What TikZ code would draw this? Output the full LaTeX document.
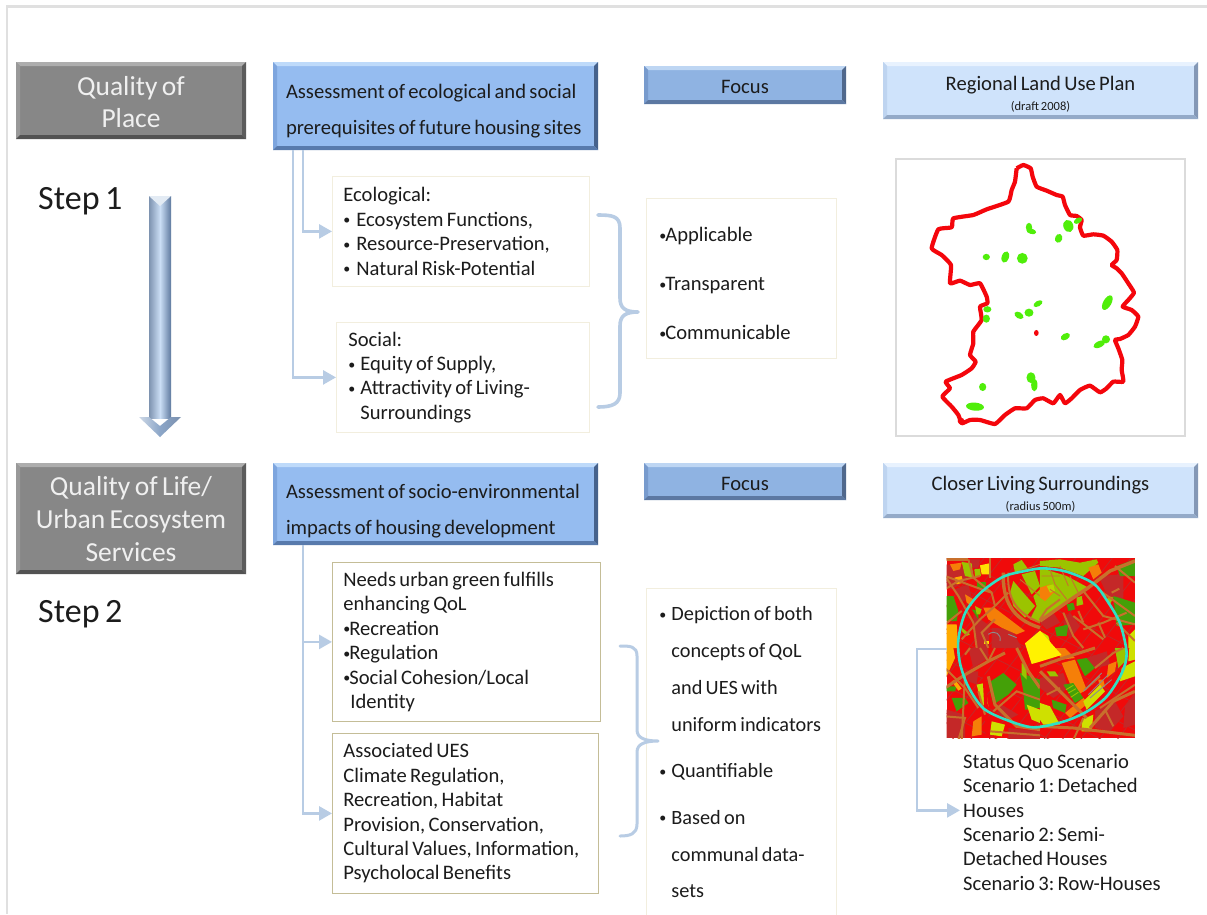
\documentclass[tikz,border=0pt]{standalone}
\usepackage{fontspec}
\setmainfont{Carlito}[WordSpace=0.72]
\AtBeginDocument{\frenchspacing}
\usetikzlibrary{arrows.meta,calc}
\definecolor{conn}{HTML}{B8CCE4}
\definecolor{txt}{HTML}{1C1C1C}
\definecolor{oliveg}{HTML}{9BC400}
\definecolor{dgreen}{HTML}{44A008}
\definecolor{mapor}{HTML}{F57F08}
\definecolor{road}{HTML}{C8702C}
\definecolor{dred}{HTML}{C42828}
\definecolor{ylw}{HTML}{CFE000}
\definecolor{amber}{HTML}{FFAA00}
\definecolor{bluefill}{HTML}{95BCF0}
\definecolor{bluet}{HTML}{BEDAFA}
\definecolor{bluel}{HTML}{7DA5DE}
\definecolor{bluer}{HTML}{46628C}
\definecolor{blueb}{HTML}{587AAC}
\definecolor{focfill}{HTML}{8FB3E2}
\definecolor{foct}{HTML}{BED6F3}
\definecolor{focl}{HTML}{789BCD}
\definecolor{focr}{HTML}{50688C}
\definecolor{focb}{HTML}{5C78A2}
\definecolor{palefill}{HTML}{CFE3FB}
\definecolor{palet}{HTML}{E8F2FE}
\definecolor{palel}{HTML}{BED4F0}
\definecolor{paler}{HTML}{8498B6}
\definecolor{paleb}{HTML}{94AAC8}
\definecolor{faintb}{HTML}{F2EEDE}
\definecolor{tanb}{HTML}{C4BD97}
\definecolor{mapred}{HTML}{F4060C}
\definecolor{mapgreen}{HTML}{50EE0A}
\definecolor{urbred}{HTML}{F00A0A}
\definecolor{cyanr}{HTML}{30E0C4}
\definecolor{shaftmid}{HTML}{CBDEF5}
\definecolor{shaftl}{HTML}{7E93B0}
\definecolor{shaftr}{HTML}{5F7A9F}
\definecolor{headl}{HTML}{CDD8E6}
\definecolor{headr}{HTML}{7A90AE}
\definecolor{headm}{HTML}{8CA6C8}
\tikzset{
  bevel/.style n args={4}{path picture={
    \fill[#1] (path picture bounding box.north west) -- (path picture bounding box.north east)
      -- ([xshift=-4pt,yshift=-4pt]path picture bounding box.north east) -- ([xshift=4pt,yshift=-4pt]path picture bounding box.north west) -- cycle;
    \fill[#2] (path picture bounding box.north west) -- (path picture bounding box.south west)
      -- ([xshift=4pt,yshift=4pt]path picture bounding box.south west) -- ([xshift=4pt,yshift=-4pt]path picture bounding box.north west) -- cycle;
    \fill[#3] (path picture bounding box.north east) -- (path picture bounding box.south east)
      -- ([xshift=-4pt,yshift=4pt]path picture bounding box.south east) -- ([xshift=-4pt,yshift=-4pt]path picture bounding box.north east) -- cycle;
    \fill[#4] (path picture bounding box.south west) -- (path picture bounding box.south east)
      -- ([xshift=-4pt,yshift=4pt]path picture bounding box.south east) -- ([xshift=4pt,yshift=4pt]path picture bounding box.south west) -- cycle;
  }},
  greybox/.style={fill=black!47,text=black!6,align=center,font=\fontsize{27.5}{32.7}\selectfont,inner sep=0pt,minimum width=230pt,
    bevel={black!32}{black!40}{black!64}{black!68}},
  bluebox/.style={fill=bluefill,text=txt,align=flush left,text width=299pt,inner sep=0pt,minimum width=325pt,
    font=\fontsize{20.6}{36}\selectfont,
    bevel={bluet}{bluel}{bluer}{blueb}},
  focusbox/.style={fill=focfill,text=txt,align=center,minimum width=202pt,inner sep=0pt,
    font=\fontsize{20.6}{22}\selectfont,
    bevel={foct}{focl}{focr}{focb}},
  palebox/.style={fill=palefill,text=txt,align=center,minimum width=315pt,inner sep=0pt,
    font=\fontsize{20.6}{21}\selectfont,
    bevel={palet}{palel}{paler}{paleb}},
  listbox/.style={draw=#1,line width=0.8pt,fill=white,text=txt,align=flush left,inner xsep=11pt,inner ysep=0pt,
    font=\fontsize{20.6}{24.4}\selectfont},
  listbox/.default=faintb,
  stepl/.style={text=txt,font=\fontsize{34}{38}\selectfont,inner sep=0pt},
  wire/.style={draw=conn,line width=2.6pt},
  wirearrow/.style={wire,-{Triangle[width=14pt,length=13pt]}},
  brace/.style={draw=conn,line width=3.6pt,line join=round,line cap=round},
  redline/.style={draw=mapred,line width=4.2pt,line join=round},
  gblob/.style={fill=mapgreen},
  mroad/.style={draw=road,line width=3pt},
  mthin/.style={draw=road,line width=2pt},
  mgray/.style={draw=black!45,line width=0.9pt},
}
\newcommand{\sm}[1]{{\fontsize{12.5}{14}\selectfont #1}}
\newcommand{\dn}[1]{\rule{0pt}{#1pt}}
\newcommand{\bl}[1]{\makebox[#1pt][l]{\raisebox{1.5pt}{\fontsize{14}{14}\selectfont •}}}
\begin{document}
\begin{tikzpicture}[x=1pt,y=-1pt]
\useasboundingbox (0,0) rectangle (1207,914);
\fill[white] (0,0) rectangle (1207,914);
% outer frame
\draw[draw=black!12,line width=2.4pt] (7,914) -- (7,6.5) -- (1207,6.5);

% header boxes row 1
\node[greybox,minimum height=77pt] (gq) at (131,100.5) {\dn{22}Quality of\\Place};
\node[bluebox,minimum height=88pt] (ba) at (435.5,106) {\dn{25}Assessment of ecological and social\\prerequisites of future housing sites};
\node[focusbox,minimum height=38pt] (f1) at (745,85) {\dn{18}Focus};
\node[palebox,minimum height=57pt] (r1) at (1040.5,90.5) {\dn{21}Regional Land Use Plan\\[-1pt]\sm{(draft 2008)}};
\node[stepl,anchor=west] (s1) at (38,201) {Step 1};

% lists row 1
\node[listbox,minimum width=257pt,minimum height=110pt,anchor=north west,text width=235pt] (eco) at (332,176)
  {Ecological:\\\bl{13}Ecosystem Functions,\\\bl{13}Resource-Preservation,\\\bl{13}Natural Risk-Potential};
\node[listbox,minimum width=253pt,minimum height=110pt,anchor=north west,text width=229pt,inner xsep=12pt] (soc) at (336,322)
  {Social:\\\bl{12}Equity of Supply,\\\bl{12}Attractivity of Living-\\\hspace*{12pt}Surroundings};
\node[listbox,minimum width=190pt,minimum height=160pt,anchor=north west,text width=164pt,inner xsep=13pt,font=\fontsize{20.6}{49}\selectfont] (fl1) at (646,198)
  {\dn{25}\bl{6}Applicable\\\bl{6}Transparent\\\bl{6}Communicable};

% connectors row 1
\draw[wirearrow] ([xshift=30pt]ba.south west) |- (eco.west);
\draw[wirearrow] ([xshift=20pt]ba.south west) |- (soc.west);
\coordinate (b1t) at (598,215);
\coordinate (b1b) at (598,407);
\coordinate (b1m) at (638,312);
\draw[brace] (b1t) .. controls (612,215) and (620,216) .. (620,228) -- (620,298) .. controls (620,308) and (625,312) .. (b1m)
   .. controls (625,312) and (620,316) .. (620,326) -- (620,393) .. controls (620,404) and (612,407) .. (b1b);

% map 1
\node[draw=black!14,line width=1.5pt,fill=white,minimum width=289pt,minimum height=277pt,inner sep=0pt] (m1) at (1040.5,297.5) {};
\begin{scope}[shift={(880,140)},x=0.3333pt,y=-0.3333pt]
\draw[redline] plot[smooth,tension=0.25] coordinates {(410,85)(430,75)(452,85)(458,110)(470,140)(500,152)(530,165)(548,170)(555,195)(570,225)(590,228)(605,240)(600,262)(610,287)(640,283)(670,287)(695,305)(712,330)(710,360)(695,375)(710,385)(725,400)(745,430)(762,458)(745,480)(728,500)(755,510)(775,530)(765,560)(745,585)(720,597)(705,600)(715,625)(727,660)(725,690)(730,725)(700,725)(680,745)(660,757)(630,737)(600,750)(575,775)(555,790)(540,765)(520,790)(490,775)(465,780)(440,805)(405,805)(375,825)(345,852)(300,840)(270,840)(245,850)(235,825)(215,800)(187,770)(210,745)(197,725)(245,705)(275,685)(287,665)(270,645)(280,610)(280,575)(305,540)(300,500)(322,490)(320,470)(300,430)(270,435)(240,422)(210,430)(213,375)(185,345)(155,325)(175,268)(215,262)(220,235)(280,225)(320,208)(385,185)(395,150)(405,125)(410,85)};
\fill[mapred] (243,843) circle (10);
\fill[mapred] (469,579) ellipse (7 and 9);
\foreach \a/\b/\c/\d/\e in {319/351/8/7/0, 376/351/8/13/-20, 427/355/12/12/0, 447/262/7/10/0, 454/274/11/6/-15, 565/258/11/14/20, 536/295/8/10/-20, 594/242/10/6/30, 474/491/11/6/30, 447/518/10/9/0, 417/526/11/7/-30, 322/508/9/7/0, 319/536/8/9/0, 682/488/9/18/-30, 556/590/11/7/30, 678/598/9/9/0, 658/613/14/7/25, 453/713/10/12/0, 463/735/7/14/0, 308/741/8/9/0, 285/800/20/9/-5}
  \fill[gblob,rotate around={\e:(\a,\b)}] (\a,\b) ellipse ({\c*1.35} and {\d*1.35});
\end{scope}

% header boxes row 2
\node[greybox,minimum height=111pt] (gl) at (131,518.5) {\dn{20}Quality of Life/\\Urban Ecosystem\\Services};
\node[bluebox,minimum height=82pt] (bb) at (435.5,504) {\dn{29}Assessment of socio-environmental\\impacts of housing development};
\node[focusbox,minimum height=37pt] (f2) at (745,481.5) {\dn{18}Focus};
\node[palebox,minimum height=55pt] (r2) at (1040.5,490.5) {\dn{21}Closer Living Surroundings\\[-1pt]\sm{(radius 500m)}};
\node[stepl,anchor=west] (s2) at (38,614) {Step 2};

% lists row 2
\node[listbox=tanb,minimum width=268pt,minimum height=159pt,anchor=north west,text width=246pt] (need) at (332,562)
  {Needs urban green fulfills\\enhancing QoL\\\bl{6}Recreation\\\bl{6}Regulation\\\bl{6}Social Cohesion/Local\\\hspace*{7pt}Identity};
\node[listbox=tanb,minimum width=266pt,minimum height=160pt,anchor=north west,text width=244pt] (ues) at (332,733)
  {Associated UES\\Climate Regulation,\\Recreation, Habitat\\Provision, Conservation,\\Cultural Values, Information,\\Psycholocal Benefits};
\node[listbox,minimum width=190pt,minimum height=328pt,anchor=north west,text width=164pt,inner xsep=13pt,font=\fontsize{20.3}{36.7}\selectfont] (fl2) at (646,588)
  {\bl{12}Depiction of both\\\hspace*{12pt}concepts of QoL\\\hspace*{12pt}and UES with\\\hspace*{12pt}uniform indicators\\[10pt]\bl{12}Quantifiable\\[10pt]\bl{12}Based on\\\hspace*{12pt}communal data-\\\hspace*{12pt}sets};

% connectors row 2
\draw[wirearrow] ([xshift=30pt]bb.south west) |- (ues.west);
\draw[wirearrow] ([xshift=30pt]bb.south west |- need.west) -- (need.west);
\coordinate (b2t) at (620,646);
\coordinate (b2b) at (620,836);
\coordinate (b2m) at (658,741);
\draw[brace,line width=3pt] (b2t) .. controls (630,646) and (637,646) .. (637,656) -- (637,730) .. controls (637,738) and (645,741) .. (b2m)
   .. controls (645,741) and (637,744) .. (637,752) -- (637,824) .. controls (637,834) and (630,836) .. (b2b);

% urban map
\node[fill=urbred,minimum width=188pt,minimum height=180pt,inner sep=0pt] (urb) at (1041,648) {};
\begin{scope}[shift={(900,540)},x=0.3333pt,y=-0.3333pt]
\clip (140,55) rectangle (705,595);
% parcel texture in the red ground
\foreach \t in {0,55,...,1000}
  \draw[dred,line width=0.8pt] (\t-300,620) -- ++(500,-640);
\foreach \t in {40,120,...,700}
  \draw[dred,line width=0.8pt] (140,\t) -- ++(565,290);
% ---- upper left quadrant
\begin{scope}[shift={(135,48)}]
\fill[dred] (0,25)--(50,30)--(70,70)--(20,100)--(0,90)--cycle;
\fill[dred] (30,100)--(70,85)--(80,125)--(45,140)--cycle;
\fill[dred] (85,175)--(135,210)--(130,276)--(95,276)--cycle;
\fill[dred] (140,215)--(200,220)--(230,276)--(140,276)--cycle;
\fill[dred] (75,10)--(105,10)--(100,35)--(80,35)--cycle;
\fill[oliveg] (50,18)--(80,22)--(85,65)--(60,60)--cycle;
\fill[mapor] (15,25)--(50,20)--(45,40)--(25,45)--cycle;
\fill[yellow!85!orange] (105,28)--(133,22)--(133,55)--(110,55)--cycle;
\fill[oliveg] (88,40)--(105,38)--(108,60)--(90,60)--cycle;
\fill[amber] (28,65)--(50,60)--(55,80)--(35,85)--cycle;
\fill[dgreen] (95,78)--(122,78)--(122,95)--(95,95)--cycle;
\fill[oliveg] (195,110)--(205,75)--(235,110)--(270,150)--(240,185)--(205,150)--cycle;
\fill[oliveg] (205,25)--(230,12)--(250,40)--(210,50)--cycle;
\fill[oliveg] (230,55)--(270,45)--(285,90)--(260,115)--cycle;
\fill[oliveg] (265,120)--(285,100)--(285,200)--(255,190)--(275,150)--cycle;
\fill[mapor] (115,155)--(148,155)--(240,225)--(215,235)--(170,215)--(130,190)--cycle;
\fill[mapor] (60,115)--(85,130)--(80,150)--(65,140)--cycle;
\fill[amber] (0,205)--(35,205)--(40,276)--(0,276)--cycle;
\fill[dgreen] (0,120)--(25,120)--(40,165)--(35,195)--(5,195)--(0,170)--cycle;
\fill[dgreen] (80,160)--(100,165)--(100,190)--cycle;
\fill[oliveg] (90,150)--(110,160)--(105,175)--(95,175)--cycle;
\fill[oliveg] (50,215)--(75,235)--(65,240)--(50,225)--cycle;
\fill[yellow!80!orange] (118,255)--(132,255)--(132,265)--(118,265)--cycle;
\draw[mroad,line width=3.4pt] (175,50) .. controls (172,130) and (200,190) .. (285,215);
\draw[mthin] (190,50) .. controls (185,130) and (215,170) .. (285,200);
\draw[mroad] (0,10)--(70,10);
\draw[mthin] (0,60)--(110,100)--(140,110)--(150,150);
\draw[mthin] (0,60)--(40,120)--(85,200)--(95,276);
\draw[mthin] (70,10)--(85,65)--(140,110);
\draw[mthin] (135,65)--(135,0);
\draw[mthin] (0,100)--(40,75)--(105,60);
\draw[mthin] (150,150)--(105,190)--(50,250);
\draw[mthin] (150,150)--(190,110);
\draw[mthin] (150,190)--(110,230)--(130,276);
\draw[mthin] (0,205)--(50,165);
\draw[mgray,draw=road] (225,70)--(285,120);
\draw[mgray,draw=road] (210,50)--(285,25);
\draw[mgray] (130,235) .. controls (150,220) and (170,235) .. (165,255) (190,235)--(215,245);
\end{scope}
% ---- upper right quadrant
\begin{scope}[shift={(420,48)}]
\fill[oliveg] (0,15)--(60,10)--(120,20)--(170,10)--(175,20)--(130,60)--(60,35)--(0,30)--cycle;
\fill[oliveg] (0,35)--(80,60)--(145,95)--(80,140)--(0,195)--cycle;
\fill[mapor] (0,95)--(30,85)--(45,105)--(15,135)--(0,125)--cycle;
\fill[mapor] (145,35)--(175,25)--(185,50)--(160,70)--cycle;
\fill[oliveg!70!yellow] (20,90)--(40,85)--(45,105)--(30,110)--cycle;
\fill[dred] (175,60)--(250,55)--(250,130)--(210,135)--cycle;
\fill[dred] (0,200)--(40,170)--(60,200)--(20,220)--cycle;
\fill[dred] (90,170)--(120,210)--(90,250)--(70,200)--cycle;
\fill[dgreen] (80,145)--(100,140)--(105,160)--(85,165)--cycle;
\fill[oliveg] (110,125)--(125,120)--(130,145)--(110,150)--cycle;
\fill[dgreen] (45,215)--(85,205)--(80,240)--(50,240)--cycle;
\fill[dgreen] (230,30)--(285,10)--(285,60)--(240,60)--cycle;
\fill[dgreen] (220,120)--(285,140)--(285,205)--(230,210)--cycle;
\fill[oliveg] (205,120)--(220,125)--(210,145)--(200,135)--cycle;
\fill[ylw] (0,225)--(25,240)--(35,276)--(0,276)--cycle;
\fill[ylw] (265,240)--(285,220)--(285,276)--(265,276)--cycle;
\draw[mgray,draw=road] (30,40)--(45,85)--(80,130) (60,30)--(85,90) (90,60)--(115,110) (5,60)--(60,60) (30,100)--(60,120);
\draw[mroad,line width=3.4pt] (0,195)--(100,125)--(145,95)--(210,45)--(285,15);
\draw[mthin] (0,190)--(20,160)--(60,130);
\draw[mthin] (70,170)--(100,240)--(130,276);
\draw[mthin] (100,180)--(190,250);
\draw[mthin] (130,105)--(190,180)--(285,205);
\draw[mthin] (130,220)--(190,200)--(260,170);
\draw[mthin] (225,30)--(285,80);
\draw[mthin] (175,100)--(285,180);
\draw[mthin] (215,110)--(238,98);
\draw[mthin] (115,165)--(130,200);
\draw[mthin] (175,200)--(195,245);
\draw[mthin] (230,200)--(285,255);
\end{scope}
% ---- lower left quadrant
\begin{scope}[shift={(135,324)}]
\fill[dred] (70,0)--(130,0)--(130,30)--(85,60)--cycle;
\fill[dred] (5,185)--(60,200)--(60,270)--(5,270)--cycle;
\fill[dred] (170,170)--(220,200)--(190,215)--(155,195)--cycle;
\fill[dred] (60,70)--(100,70)--(95,110)--(70,100)--cycle;
\fill[dred] (190,240)--(285,250)--(285,276)--(190,276)--cycle;
\fill[amber] (0,0)--(25,0)--(30,30)--(0,95)--cycle;
\fill[dgreen] (130,105)--(175,75)--(215,110)--(190,140)--(145,170)--cycle;
\fill[dgreen] (225,75)--(285,95)--(285,180)--(240,185)--(235,130)--cycle;
\fill[oliveg!60!yellow] (95,110)--(120,105)--(130,175)--(110,170)--cycle;
\fill[oliveg] (230,45)--(245,55)--(245,95)--(230,80)--cycle;
\fill[dgreen] (5,115)--(35,115)--(30,130)--(5,130)--cycle;
\fill[dgreen] (20,150)--(60,150)--(70,165)--(35,190)--cycle;
\fill[ylw] (245,170)--(285,185)--(285,225)--(260,215)--cycle;
\fill[ylw] (140,220)--(180,230)--(170,265)--(135,260)--cycle;
\fill[mapor] (85,220)--(110,205)--(110,260)--(80,265)--cycle;
\fill[amber] (20,100)--(30,95)--(50,122)--(40,128)--cycle;
\draw[urbred,line width=3.6pt] (118,80)--(128,265);
\draw[mroad] (0,120)--(60,80)--(130,40)--(180,15);
\draw[mthin] (130,40)--(150,0);
\draw[mthin] (60,80)--(50,276);
\draw[mroad] (215,0)--(250,70)--(285,120);
\draw[mthin] (100,130)--(120,200);
\draw[mroad] (130,85)--(150,170)--(215,235)--(285,245);
\draw[mthin] (0,205)--(60,210)--(40,276);
\draw[mthin] (145,190)--(215,130)--(285,155);
\draw[mthin] (105,0)--(130,40);
\draw[mthin] (60,20)--(75,0);
\draw[mthin] (0,60)--(60,120)--(100,180);
\draw[mthin] (135,250)--(285,262);
\end{scope}
% ---- lower right quadrant
\begin{scope}[shift={(420,324)}]
\fill[dred] (0,90)--(70,75)--(85,120)--(40,150)--(0,120)--cycle;
\fill[dred] (165,190)--(225,160)--(250,205)--(210,250)--(165,240)--cycle;
\fill[dred] (255,175)--(285,140)--(285,230)--(250,240)--cycle;
\fill[dred] (140,30)--(200,10)--(210,50)--(165,60)--cycle;
\fill[mapor] (65,45)--(105,35)--(140,125)--(105,145)--cycle;
\fill[mapor] (45,0)--(75,0)--(105,30)--(65,35)--cycle;
\fill[mapor] (205,50)--(230,40)--(225,70)--(200,90)--cycle;
\fill[mapor] (175,95)--(190,95)--(195,115)--(180,120)--cycle;
\fill[mapor] (75,195)--(130,150)--(145,165)--(90,210)--cycle;
\fill[dgreen] (110,35)--(140,30)--(165,60)--(135,85)--cycle;
\fill[dgreen] (70,110)--(100,105)--(130,150)--(105,165)--cycle;
\fill[dgreen] (35,155)--(80,170)--(75,195)--(40,180)--cycle;
\fill[ylw] (130,160)--(180,110)--(195,130)--(140,185)--cycle;
\fill[oliveg] (225,0)--(260,0)--(255,40)--(235,60)--cycle;
\fill[ylw] (245,60)--(285,40)--(285,85)--(240,100)--cycle;
\fill[ylw] (268,0)--(285,0)--(285,35)--(265,40)--cycle;
\fill[ylw] (0,165)--(30,175)--(60,230)--(10,230)--(0,215)--cycle;
\fill[ylw] (125,215)--(160,200)--(155,250)--(125,250)--cycle;
\fill[oliveg] (20,70)--(45,70)--(55,85)--(30,85)--cycle;
\draw[mroad] (0,55)--(70,30)--(165,0);
\draw[mroad] (0,70)--(70,140)--(140,210);
\draw[mthin] (165,60)--(220,15)--(250,0);
\draw[mthin] (135,125)--(180,85);
\draw[mroad] (150,240)--(220,160)--(285,130);
\draw[mroad] (0,235)--(100,240)--(285,262);
\draw[mthin] (130,210)--(100,276);
\draw[mthin] (195,185)--(220,235);
\draw[mthin] (20,140)--(60,120);
\draw[mthin] (180,180)--(285,110);
\draw[mgray] (130,130)--(185,75) (145,140)--(205,80) (150,150)--(215,95);
\draw[mgray,draw=oliveg] (78,125)--(100,112) (85,135)--(108,122) (92,148)--(115,133);
\end{scope}
% central yellow parcel
\fill[yellow] (375,310)--(420,272)--(485,345)--(420,365)--(395,372)--cycle;
% cyan ring
\draw[draw=cyanr,line width=2.6pt] plot[smooth cycle,tension=0.5] coordinates {(430,85)(500,95)(580,130)(620,180)(660,250)(680,340)(665,400)(620,470)(560,515)(490,545)(400,562)(320,540)(250,505)(205,440)(180,370)(175,300)(195,220)(240,160)(310,110)(380,92)};
\end{scope}

% scenarios
\node[text=txt,anchor=north west,align=flush left,inner sep=0pt,font=\fontsize{20.6}{24.4}\selectfont] (scen) at (963,754)
  {Status Quo Scenario\\Scenario 1: Detached\\Houses\\Scenario 2: Semi-\\Detached Houses\\Scenario 3: Row-Houses};
\coordinate (ucorner) at (917,649);
\draw[wirearrow] ([yshift=-1pt]urb.west) -| (ucorner) |- ([yshift=12pt,xshift=-3pt]scen.west);

% block arrow
\coordinate (atop) at (160,196);
\coordinate (atip) at (160,437);
\path[left color=shaftl,right color=shaftr,middle color=shaftmid]
  (149,196) -- (171,196) -- (171,418) -- (149,418) -- cycle;
\fill[white!60!conn] (149,196) -- (171,196) -- (160,206) -- cycle;
\path[left color=headl,right color=headm]
  (139,417) -- (149,417) -- (160,426) -- (atip) -- cycle;
\path[left color=headm,right color=headr]
  (160,426) -- (171,417) -- (181,417) -- (atip) -- cycle;
\end{tikzpicture}
\end{document}
